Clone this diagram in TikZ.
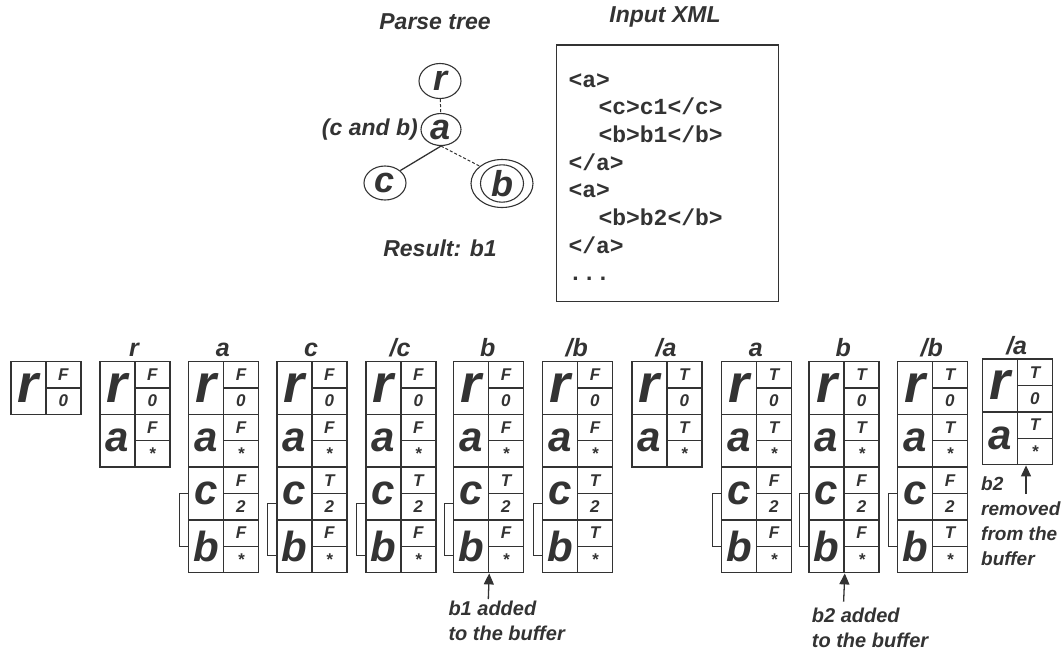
\documentclass[tikz,border=0pt]{standalone}
\usepackage{fontspec}
\setmainfont{Liberation Sans}
\setmonofont{Liberation Mono}
\usetikzlibrary{shapes.geometric,arrows.meta}
\definecolor{ink}{HTML}{333333}
\newcommand\fs[1]{\fontsize{#1}{#1}\selectfont}
\newcommand\R{{\fs{54}r}}
\tikzset{
  lettercell/.style={draw=ink, text=ink, line width=1.5pt, minimum width=35pt, minimum height=52.8pt,
    inner sep=0pt, anchor=north west, font=\bfseries\itshape\fs{42}},
  flagcell/.style={draw=ink, text=ink, line width=1.5pt, minimum width=35pt, minimum height=26.4pt,
    inner sep=0pt, anchor=north west, font=\bfseries\itshape\fs{17}},
  collab/.style={anchor=base, inner sep=0pt, text=ink, font=\bfseries\itshape\fs{25}},
  title/.style={inner sep=0pt, text=ink, font=\bfseries\itshape\fs{23}},
  ann/.style={anchor=base west, inner sep=0pt, text=ink, font=\bfseries\itshape\fs{20}},
  tnode/.style={ellipse, draw=ink, line width=1.1pt, inner sep=0pt, text=ink, font=\bfseries\itshape\fs{36}},
  xmlline/.style={anchor=base west, inner sep=0pt, text=ink, font=\ttfamily\bfseries\upshape\fs{23}},
  conn/.style={draw=ink, line width=1pt},
  arr/.style={draw=ink, line width=1.3pt, -{Triangle[length=11pt,width=10pt]}},
}
\newcommand\stk[5]{%
  \if\relax\detokenize{#4}\relax\else
    \node[collab] (#1-lab) at ({#2+35},{#3-4}) {#4};
  \fi
  \foreach \ltr/\flg/\num [count=\i from 0] in {#5} {
    \node[lettercell] (#1-\i) at (#2,{#3+\i*52.8}) {\ltr};
    \node[flagcell] (#1-\i-f) at ({#2+35},{#3+\i*52.8}) {\flg};
    \node[flagcell] (#1-\i-n) at ({#2+35},{#3+\i*52.8+26.4}) {\num};
  }
}
\newcommand\brk[2]{%
  \draw[conn] ([yshift=-#2pt]#1-2.west) -- ++(-8.5,0) |- ([yshift=-#2pt]#1-3.west);
}
\begin{document}
\begin{tikzpicture}[x=1pt,y=-1pt]
\useasboundingbox (0,0) rectangle (1062,654);

% ---- parse tree ----
\node[title] (pt) at (435,22) {Parse tree};
\node[tnode, minimum width=42pt, minimum height=35pt] (r) at (440,81) {r};
\node[tnode, minimum width=40pt, minimum height=32pt] (a) at (441,129.5) {a};
\node[tnode, minimum width=42pt, minimum height=34pt] (c) at (385,183) {c};
\node[tnode, minimum width=62pt, minimum height=48pt] (bout) at (502,183.5) {};
\node[tnode, minimum width=43pt, minimum height=34pt] (b) at (502,183.5) {b};
\draw[conn, dash pattern=on 3pt off 2pt] (r) -- (a);
\draw[conn, line width=1.3pt] (a.south) -- (c.north east);
\draw[conn, dash pattern=on 3pt off 2pt] (a.south) -- (bout.north west);
\node[title, anchor=east] (cond) at (418,130) {(c and b)};
\node[title] (res) at (440,248) {Result: b1};

% ---- input XML ----
\node[title] (ix) at (665,17) {Input XML};
\node[draw=ink, line width=1.3pt, minimum width=221.7pt, minimum height=256.7pt, anchor=north west, inner sep=0pt] (xmlbox) at (556,44.3) {};
\node[xmlline] (x1) at (568.3,87) {<a>};
\node[xmlline] (x2) at (598.3,114.7) {<c>c1</c>};
\node[xmlline] (x3) at (598.3,142.4) {<b>b1</b>};
\node[xmlline] (x4) at (568.3,170.1) {</a>};
\node[xmlline] (x5) at (568.3,197.8) {<a>};
\node[xmlline] (x6) at (598.3,225.5) {<b>b2</b>};
\node[xmlline] (x7) at (568.3,253.2) {</a>};
\node[xmlline] (x8) at (568.3,280.9) {...};

% ---- stacks ----
\stk{c0}{10}{360.7}{}{\R/F/0}
\stk{c1}{99}{360.7}{r}{\R/F/0, a/F/*}
\stk{c2}{187.7}{360.7}{a}{\R/F/0, a/F/*, c/F/2, b/F/*}
\stk{c3}{276}{360.7}{c}{\R/F/0, a/F/*, c/T/2, b/F/*}
\stk{c4}{365}{360.7}{/c}{\R/F/0, a/F/*, c/T/2, b/F/*}
\stk{c5}{452.7}{360.7}{b}{\R/F/0, a/F/*, c/T/2, b/F/*}
\stk{c6}{541.7}{360.7}{/b}{\R/F/0, a/F/*, c/T/2, b/T/*}
\stk{c7}{631}{360.7}{/a}{\R/T/0, a/T/*}
\stk{c8}{720.7}{360.7}{a}{\R/T/0, a/T/*, c/F/2, b/F/*}
\stk{c9}{808.3}{360.7}{b}{\R/T/0, a/T/*, c/F/2, b/F/*}
\stk{c10}{896.7}{360.7}{/b}{\R/T/0, a/T/*, c/F/2, b/T/*}
\stk{c11}{981.7}{358.3}{/a}{\R/T/0, a/T/*}

\brk{c2}{0}
\brk{c3}{9.6}
\brk{c4}{9.6}
\brk{c5}{9.6}
\brk{c6}{9.6}
\brk{c8}{0}
\brk{c9}{0}
\brk{c10}{0}

% ---- annotations ----
\node[ann] (n1a) at (448.3,615) {b1 added};
\node[ann] (n1b) at (448.3,640) {to the buffer};
\coordinate (t1) at (488.3,599);
\draw[arr] (t1) -- (c5-3.south east);

\node[ann] (n2a) at (811.7,622) {b2 added};
\node[ann] (n2b) at (811.7,647) {to the buffer};
\coordinate (t2) at (843.6,601.7);
\draw[arr] (t2) -- (c9-3.south east);

\node[ann, font=\bfseries\itshape\fs{19}] (n3a) at (981,490) {b2};
\node[ann, font=\bfseries\itshape\fs{19}] (n3b) at (981,515) {removed};
\node[ann, font=\bfseries\itshape\fs{19}] (n3c) at (981,540) {from the};
\node[ann, font=\bfseries\itshape\fs{19}] (n3d) at (981,565) {buffer};
\coordinate (t3) at (1026,494);
\draw[arr] (t3) -- (t3 |- c11-1-n.south);
\end{tikzpicture}
\end{document}
